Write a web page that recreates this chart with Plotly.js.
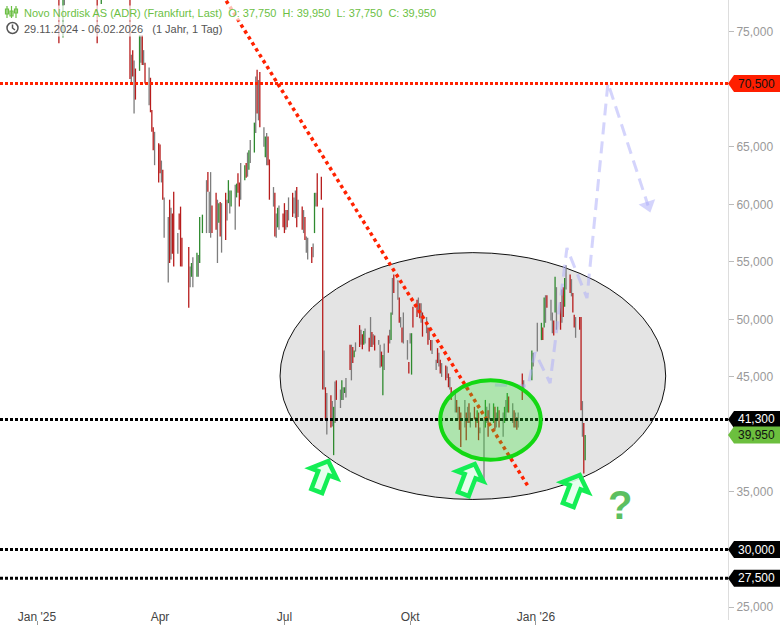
<!DOCTYPE html>
<html><head><meta charset="utf-8">
<script src="https://cdn.plot.ly/plotly-3.0.1.min.js"></script>
<style>html,body{margin:0;padding:0;background:#fff}#chart{width:780px;height:625px}</style>
</head><body><div id="chart"></div>
<script>
// ---------- data ----------
const TITLE = 'Novo Nordisk AS (ADR) (Frankfurt, Last)';
const PERIOD = '29.11.2024 - 06.02.2026';
const SPAN = '(1 Jahr, 1 Tag)';
const FIRST_DAY = '2024-12-02';
const LAST_DAY = '2026-02-06';
const holidays = ['2024-12-24','2024-12-25','2024-12-26','2024-12-31','2025-01-01','2025-04-18','2025-04-21',
  '2025-05-01','2025-12-24','2025-12-25','2025-12-26','2025-12-31','2026-01-01'];
const tickDates = ['2025-01-01','2025-04-01','2025-07-01','2025-10-01','2026-01-01'];
const tickLabels = ["Jan '25", 'Apr', 'Jul', 'Okt', "Jan '26"];
// price ticks that are not hidden behind the level tags
const priceTicks = [25,35,45,50,55,60,65,75];
const resistanceLevel = 70.5;
const supportLevels = [41.3, 30, 27.5];

const opens = [
 101,102,100,99,101,100,98,99,98,97,98,97,96,97,84,83,84,83,
 83,84,85,84.5,83.5,82.5,82,80.5,79.5,79,78.5,80,78,80,81,82.5,83.5,84,85,84.5,84,83,
 82,81,80,81.5,82,81.5,80.5,79.5,79,79,78,80.5,81.5,82.5,83,82,81.5,81,80.5,80,
 80.5,81,79.5,79.5,78.8,79,71.8,73.0,70.0,71.5,71.9,73.5,74.4,72.7,72.1,70.2,70.8,68.0,66.5,64.8,65.0,
 65.0,62.8,62.8,58.5,56.0,60.0,57.5,58.8,60.5,56.6,59.0,59.5,56.8,56.0,53.6,53.9,54.0,54.0,54.5,55.2,
 57.6,60.0,62.6,59.3,60.0,59.7,60.8,57.5,58.5,60.0,58.0,60.8,59.5,60.2,60.2,59.9,60.0,60.7,62.5,61.8,62.0,
 62.2,63.4,63.5,63.2,64.6,64.8,69.0,71.4,69.5,71.2,65.8,64.3,64.8,65.7,63.7,60.6,60.8,58.2,58.1,58.8,59.1,
 60.0,58.6,59.3,59.6,60.8,59.9,60.0,61.2,59.6,59.6,58.5,58.7,56.5,56.2,56.1,56.0,57.6,60.4,62.5,62.2,59.7,45.5,44.0,
 41.8,43.0,41.8,38.5,42.8,44.6,43.1,43.2,43.6,43.7,44.0,47.6,46.3,47.4,46.9,47.6,49.3,48.4,48.5,47.9,48.5,
 48.3,48.8,48.8,48.2,48.5,48.0,46.8,47.0,43.7,46.8,48.5,48.5,48.3,52.0,53.8,52.5,51.8,49.8,49.2,49.3,47.3,46.2,
 48.3,45.4,51.0,51.6,51.2,51.3,50.5,50.5,49.5,49.2,48.7,48.1,47.6,46.0,47.4,46.5,46.4,45.6,45.9,45.4,45.2,44.4,44.0,
 42.7,42.9,41.8,42.3,41.8,41.8,41.8,41.7,42.6,41.2,42.3,41.4,41.2,41.8,40.3,38.5,40.8,41.7,41.9,42.0,
 41.1,42.3,41.2,41.4,42.0,40.8,41.1,42.2,42.0,43.2,41.8,42.0,41.2,41.4,41.2,45.2,44.3,44.8,46.5,
 48.5,48.3,49.2,49.4,51.0,52.0,50.8,49.7,49.8,50.7,51.0,51.4,51.2,52.7,51.2,53.7,53.8,52.8,52.2,50.3,49.3,
 50.1,49.9,41.3,40.9,37.75
];
const highs = [
 103,103,102,101,102,101,100,100,99,99,99,98,98,98,85,85,85,84,
 85,86,86,85,84,83,83,81,80,80,79.5,80.5,82,82,83,84,85,86,86,85.5,85,84,
 83,82,82,83,83,82,81,80,80,79.5,81,82,83,84,84,83,82.5,82,81.5,81,
 82,81.5,80.5,80,79.5,79.5,73.0,73.4,72.5,71.8,74.7,74.7,74.7,73.4,72.3,71.9,71.0,68.2,66.7,66.3,65.3,
 65.2,63.8,63.0,60.6,58.9,60.4,59.7,59.2,61.1,57.5,59.2,59.8,57.1,56.3,54.6,54.9,55.4,55.8,55.6,58.9,
 59.1,62.1,62.8,61.1,62.8,59.9,61.0,60.4,60.1,60.2,60.1,61.0,60.4,62.1,61.2,61.2,61.7,61.8,62.7,61.9,63.6,
 63.4,63.6,64.5,64.7,65.6,67.1,71.1,71.7,70.8,71.5,66.7,65.9,66.2,65.9,63.9,61.5,61.0,59.2,59.7,59.9,59.2,
 60.1,59.5,59.5,60.6,61.0,60.6,61.2,61.5,60.4,59.8,59.5,58.9,57.2,57.1,56.3,56.6,61.0,61.0,62.7,62.4,59.7,47.3,44.1,
 43.6,43.4,42.9,42.4,44.6,44.7,43.9,44.7,44.1,44.1,44.9,47.8,47.8,47.6,47.3,48.0,49.5,49.1,48.7,49.0,49.2,
 48.4,50.2,48.9,48.7,48.6,48.2,47.8,47.2,46.9,47.9,48.6,49.1,50.6,53.6,53.9,53.4,51.9,50.2,49.3,50.6,48.2,46.3,
 48.8,48.8,51.1,51.7,51.9,51.4,51.4,50.6,50.2,49.3,49.3,48.2,48.2,46.5,47.5,47.1,46.5,46.2,46.0,45.9,45.3,45.0,44.1,
 43.6,43.0,42.4,42.4,41.9,43.0,41.9,42.4,42.7,41.9,42.4,41.5,42.1,41.9,40.6,41.3,43.0,42.4,42.1,42.7,
 42.7,42.4,41.9,42.4,42.1,41.9,42.4,43.0,43.6,43.3,42.7,42.1,41.9,41.5,41.9,45.3,44.7,47.3,47.1,
 49.7,49.7,49.3,51.9,52.1,52.1,51.7,50.6,49.9,53.7,52.8,51.5,52.6,52.8,53.6,54.7,53.9,53.5,52.3,50.4,50.2,
 50.2,50.2,42.9,41.0,39.95
];
const lows = [
 100,100,98,98,99,98,97,97,96,96,96,95,95,96,79,82,82,82,
 82,83,84,83,82,81,80,79,78.5,78,77.9,74.0,74.5,77.3,80,82,83,83,84,83,82.5,82,
 80,79.5,79,80.5,81,80,79,78.5,78,74.0,77.4,80,81,82,81.5,81,80.5,80,79.5,79,
 79.5,79,78.5,78.2,78,70.9,70.5,71.1,67.9,69.1,71.6,72.3,72.1,72.1,70.5,68.6,68.0,66.3,64.7,63.4,61.9,
 62.7,61.9,60.4,57.1,53.2,54.9,55.2,55.7,54.6,55.7,57.8,54.6,54.6,51.0,52.8,53.7,52.8,53.7,53.7,54.9,
 57.5,57.5,61.1,57.5,57.1,57.5,57.8,54.9,58.4,57.2,55.8,56.9,58.6,60.1,59.2,59.8,57.8,60.6,61.0,59.8,60.4,
 62.1,62.3,62.4,63.0,63.6,64.5,66.2,67.9,67.3,66.7,65.0,64.1,63.4,63.4,60.4,59.8,57.2,57.1,58.0,57.8,58.0,
 57.5,57.8,58.0,58.6,58.9,59.2,58.8,58.0,58.9,57.8,57.5,56.9,55.8,55.2,54.9,55.4,57.5,59.8,59.8,60.4,43.9,43.9,41.3,
 40.0,40.6,40.7,38.2,41.0,43.0,42.3,43.0,43.0,43.6,43.2,45.6,44.7,46.2,46.7,47.2,47.6,47.8,47.4,47.8,47.9,
 47.2,47.6,47.6,47.8,47.3,47.8,45.8,45.9,43.4,45.6,47.1,47.9,48.2,50.4,52.3,51.7,49.7,49.3,48.0,47.9,46.5,45.3,
 47.9,45.2,49.3,50.2,50.6,50.1,49.7,48.5,48.8,47.8,48.2,47.3,47.0,45.6,46.2,45.9,45.3,45.0,44.7,44.9,44.1,43.9,43.0,
 41.9,41.9,41.3,40.4,38.9,40.6,39.5,41.0,41.0,40.6,41.3,40.6,41.0,39.5,40.1,36.0,40.6,41.0,39.8,41.3,
 41.0,40.4,40.6,41.3,40.6,39.8,41.0,41.3,41.9,41.9,41.0,40.6,40.6,40.4,40.6,43.0,43.9,44.7,45.9,
 47.2,48.2,48.2,49.3,49.7,51.0,49.9,48.8,48.6,50.6,49.1,49.1,49.7,50.2,51.1,52.6,52.3,52.0,50.6,49.3,48.4,
 49.1,42.1,39.8,36.6,37.75
];
const closes = [
 102,100,99,101,100,98,99,98,97,98,97,96,97,96,83,84,83,83,
 84,85,84.5,83.5,82.5,82,80.5,79.5,79,78.5,79,78,81,80,82.5,83.5,84,85,84.5,84,83,82.5,
 81,80,81.5,82,81.5,80.5,79.5,79,78.5,78,80.5,81.5,82.5,83,82,81.5,81,80.5,80,80.5,
 81,79.5,79.5,78.8,79,71.5,71.8,71.4,70.0,69.5,74.3,73.5,72.5,72.7,70.8,70.2,68.3,66.6,65.0,64.8,62.3,
 63.0,62.8,60.8,58.5,56.0,55.5,57.5,56.2,55.0,56.6,58.0,55.0,55.0,52.0,53.6,54.7,54.0,55.5,54.5,58.5,
 58.9,60.0,61.3,59.3,60.0,57.8,58.2,57.5,59.9,57.5,58.0,57.3,59.5,61.9,60.2,61.0,60.0,61.6,61.2,60.1,62.0,
 63.2,62.5,63.5,64.5,64.6,66.9,69.0,68.3,69.5,67.0,65.8,65.7,64.8,63.7,60.7,60.6,57.6,58.2,59.5,58.8,58.2,
 57.8,58.6,58.2,59.6,59.2,59.9,60.0,58.4,59.6,58.0,58.5,57.2,56.5,56.2,55.1,56.0,60.8,60.4,60.1,60.6,45.0,45.5,41.6,
 41.8,41.0,41.8,42.0,42.8,43.2,43.1,44.5,43.6,44.0,44.0,45.9,46.3,46.4,47.2,47.6,47.9,48.4,47.6,48.8,48.5,
 47.4,48.8,47.8,48.2,47.5,48.0,46.8,46.1,46.6,46.8,47.3,48.5,50.4,52.0,52.6,52.5,50.0,49.8,48.2,49.3,47.3,45.5,
 48.3,48.5,49.6,50.4,51.2,50.3,50.5,48.8,49.5,48.0,48.7,47.5,47.6,46.0,46.4,46.5,45.5,45.6,44.9,45.4,44.3,44.4,43.2,
 42.7,42.1,41.8,40.7,39.3,41.8,39.8,41.7,41.3,41.2,41.5,40.8,41.9,39.8,40.3,38.5,42.8,41.7,40.1,42.0,
 42.5,40.7,41.2,42.2,40.9,40.8,42.2,42.2,43.4,42.1,41.8,40.9,41.2,40.7,41.2,43.9,44.3,47.0,46.5,
 48.5,49.5,48.4,51.7,51.0,51.2,50.8,49.7,48.8,53.5,51.0,49.4,51.2,50.5,53.4,53.7,52.5,52.8,50.8,49.5,49.3,
 49.3,42.5,41.3,37.2,39.95
];

// drawing overlays (data coordinates)
const trendDates = ['2025-05-14', '2025-12-27'];
const trendPrices = [78.72, 35.35];
const scenarioDates = ['2025-12-02','2025-12-26 06:00','2025-12-31 08:00','2026-01-11 08:00',
  '2026-01-23 16:00','2026-02-07 08:00','2026-02-22 16:00','2026-03-24 00:00'];
const scenarioPrices = [44.30, 44.21, 47.14, 44.47, 56.20, 51.86, 70.54, 59.9];
const zoneDates = ['2025-06-27 19:00', '2026-04-05 22:00'];
const zonePrices = [34.35, 55.80];
const baseDates = ['2025-10-23 00:00', '2026-01-04 12:00'];
const basePrices = [37.80, 44.71];

// ---------- layout constants ----------
const Y_MIN = 23.873, Y_MAX = 77.757;
const X_RANGE = ['2024-12-04 22:00', '2026-05-21 12:00'];
const PLOT_W = 728, PLOT_H = 620;

function tradingDays(first, last, skip) {
  const out = [];
  const d = new Date(first + 'T00:00:00Z');
  const end = new Date(last + 'T00:00:00Z');
  while (d <= end) {
    const wd = d.getUTCDay();
    const s = d.toISOString().slice(0, 10);
    if (wd !== 0 && wd !== 6 && skip.indexOf(s) < 0) out.push(s);
    d.setUTCDate(d.getUTCDate() + 1);
  }
  return out;
}
const allDays = tradingDays(FIRST_DAY, LAST_DAY, holidays);
const m = Math.min(allDays.length, closes.length);
const dates = allDays.slice(allDays.length - m);
const O = opens.slice(opens.length - m), H = highs.slice(highs.length - m),
      L = lows.slice(lows.length - m), C = closes.slice(closes.length - m);

function subset(pred) {
  const r = {x: [], open: [], high: [], low: [], close: []};
  for (let i = 0; i < m; i++) if (pred(O[i], C[i])) {
    r.x.push(dates[i]); r.open.push(O[i]); r.high.push(H[i]); r.low.push(L[i]); r.close.push(C[i]);
  }
  return r;
}
function ohlcTrace(d, color) {
  return Object.assign({type: 'ohlc', tickwidth: 0, hoverinfo: 'skip', showlegend: false,
    increasing: {line: {color: color, width: 1.3}}, decreasing: {line: {color: color, width: 1.3}}}, d);
}
const RED = '#b71c1c', GREEN = '#2f8a2f', GRAY = '#7d7d7d';
const fmt = v => v.toFixed(3).replace('.', ',');
const yFrac = v => (v - Y_MIN) / (Y_MAX - Y_MIN);
const LAV = 'rgba(170,170,250,0.5)';

const traces = [
  ohlcTrace(subset((o, c) => c === o), GRAY),
  ohlcTrace(subset((o, c) => c < o), RED),
  ohlcTrace(subset((o, c) => c > o), GREEN),
  {type: 'scatter', mode: 'lines', x: trendDates, y: trendPrices, hoverinfo: 'skip',
   line: {color: '#ff2200', width: 3.5, dash: '3.5px,3.5px'}},
  {type: 'scatter', mode: 'lines', x: scenarioDates, y: scenarioPrices, hoverinfo: 'skip',
   line: {color: LAV, width: 3, dash: '12px,7px'}},
  {type: 'scatter', mode: 'markers', x: scenarioDates.slice(-1), y: scenarioPrices.slice(-1), hoverinfo: 'skip',
   marker: {symbol: 'triangle-down', size: 15, color: LAV, angle: -18}}
];

// ---------- shapes ----------
const shapes = [];
shapes.push({type: 'circle', xref: 'x', yref: 'y', x0: zoneDates[0], x1: zoneDates[1], y0: zonePrices[0], y1: zonePrices[1],
  fillcolor: '#e4e4e4', line: {color: '#111', width: 1}, layer: 'below'});
shapes.push({type: 'line', xref: 'paper', yref: 'y', x0: 0, x1: 1, y0: resistanceLevel, y1: resistanceLevel,
  line: {color: '#ff2200', width: 3, dash: '3px,2px'}, layer: 'above'});
supportLevels.forEach(v => shapes.push({type: 'line', xref: 'paper', yref: 'y', x0: 0, x1: 1, y0: v, y1: v,
  line: {color: '#000', width: 3, dash: '3px,2px'}, layer: 'above'}));
shapes.push({type: 'circle', xref: 'x', yref: 'y', x0: baseDates[0], x1: baseDates[1], y0: basePrices[0], y1: basePrices[1],
  fillcolor: 'rgba(50,230,50,0.3)', line: {color: '#12d812', width: 4}, layer: 'above'});

function arrowPath(deg) {
  const pts = [[0,16],[14,3],[5.8,3],[5.8,-16],[-5.8,-16],[-5.8,3],[-14,3]];
  const a = deg * Math.PI / 180, ca = Math.cos(a), sa = Math.sin(a);
  return 'M' + pts.map(p => (p[0]*ca + p[1]*sa).toFixed(1) + ',' + (-p[0]*sa + p[1]*ca).toFixed(1)).join(' L') + ' Z';
}
[[322.5, 476], [469, 479], [574, 490]].forEach(p => shapes.push({type: 'path', xref: 'paper', yref: 'paper',
  xsizemode: 'pixel', ysizemode: 'pixel', xanchor: p[0] / PLOT_W, yanchor: 1 - p[1] / PLOT_H,
  path: arrowPath(21), fillcolor: 'rgba(228,255,236,0.9)', line: {color: '#14ee55', width: 4.5}, layer: 'above'}));

const tags = [{v: resistanceLevel, bg: '#ff1e00', fg: '#111'}]
  .concat([{v: supportLevels[0], bg: '#000', fg: '#fff'}])
  .concat([{v: C[m - 1], bg: '#6cbf3e', fg: '#111'}])
  .concat(supportLevels.slice(1).map(v => ({v: v, bg: '#000', fg: '#fff'})));
tags.forEach(t => shapes.push({type: 'path', xref: 'paper', yref: 'paper', xsizemode: 'pixel', ysizemode: 'pixel',
  xanchor: 1, yanchor: yFrac(t.v), path: 'M0,0 L6,8.5 L53,8.5 L53,-8.5 L6,-8.5 Z', fillcolor: t.bg,
  line: {width: 0}, layer: 'above'}));

// header icons
shapes.push({type: 'path', xref: 'paper', yref: 'paper', xsizemode: 'pixel', ysizemode: 'pixel', xanchor: 0, yanchor: 1,
  path: 'M7,-6 V-18 M11.5,-6 V-18 M16,-6 V-18 M5.5,-9 H8.5 V-14 H5.5 Z M10,-11 H13 V-16 H10 Z M14.5,-9 H17.5 V-13 H14.5 Z',
  line: {color: '#6cbf45', width: 1.2}, fillcolor: 'rgba(0,0,0,0)', layer: 'above'});
shapes.push({type: 'circle', xref: 'paper', yref: 'paper', xsizemode: 'pixel', ysizemode: 'pixel', xanchor: 0, yanchor: 1,
  x0: 7, x1: 18, y0: -22.5, y1: -33.5, line: {color: '#555', width: 1.5}, fillcolor: 'rgba(0,0,0,0)', layer: 'above'});
shapes.push({type: 'path', xref: 'paper', yref: 'paper', xsizemode: 'pixel', ysizemode: 'pixel', xanchor: 0, yanchor: 1,
  path: 'M12.5,-24.5 L12.5,-28 L15,-30', line: {color: '#555', width: 1.5}, layer: 'above'});

// ---------- annotations ----------
const sp = '\u00a0\u00a0';
const annotations = [];
annotations.push({xref: 'paper', yref: 'paper', x: 0, y: 1, xanchor: 'left', yanchor: 'top', xshift: 22, yshift: -5,
  showarrow: false, bgcolor: 'rgba(255,255,255,0.7)', borderpad: 1,
  text: TITLE + sp + 'O: ' + fmt(O[m-1]) + sp + 'H: ' + fmt(H[m-1]) + sp + 'L: ' + fmt(L[m-1]) + sp + 'C: ' + fmt(C[m-1]),
  font: {size: 11, color: '#6cbf45'}});
annotations.push({xref: 'paper', yref: 'paper', x: 0, y: 1, xanchor: 'left', yanchor: 'top', xshift: 22, yshift: -21,
  showarrow: false, bgcolor: 'rgba(255,255,255,0.7)', borderpad: 1,
  text: PERIOD + sp + '\u00a0' + SPAN, font: {size: 11, color: '#555'}});
tags.forEach(t => annotations.push({xref: 'paper', yref: 'y', x: 1, y: t.v, xanchor: 'left', yanchor: 'middle',
  xshift: 8, showarrow: false, text: fmt(t.v), font: {size: 12, color: t.fg}}));
annotations.push({xref: 'paper', yref: 'paper', x: 620 / PLOT_W, y: 1 - 505 / PLOT_H, xanchor: 'center', yanchor: 'middle',
  showarrow: false, text: '<b>?</b>', font: {size: 40, color: '#5cbf60'}});

const layout = {
  width: 780, height: 625, margin: {l: 0, r: 52, t: 0, b: 5},
  paper_bgcolor: '#fff', plot_bgcolor: '#fff', separators: ',.',
  font: {family: 'Liberation Sans, Arial, sans-serif', size: 12, color: '#444'},
  showlegend: false, hovermode: false, dragmode: false,
  xaxis: {type: 'date', range: X_RANGE, tickvals: tickDates, ticktext: tickLabels, ticks: 'outside', ticklen: 4,
    tickcolor: '#999', ticklabelposition: 'inside', ticklabelstandoff: -6, tickfont: {size: 12, color: '#444'},
    showgrid: false, zeroline: false, showline: false, rangeslider: {visible: false}, fixedrange: true},
  yaxis: {side: 'right', range: [Y_MIN, Y_MAX], tickvals: priceTicks, tickformat: '.3f', ticks: 'outside', ticklen: 5,
    tickcolor: '#bbb', tickfont: {size: 12, color: '#999'}, showgrid: false, zeroline: false, showline: true,
    linecolor: '#ddd', linewidth: 1, fixedrange: true},
  shapes: shapes, annotations: annotations
};
Plotly.newPlot('chart', traces, layout, {staticPlot: true, displayModeBar: false});
</script></body></html>
